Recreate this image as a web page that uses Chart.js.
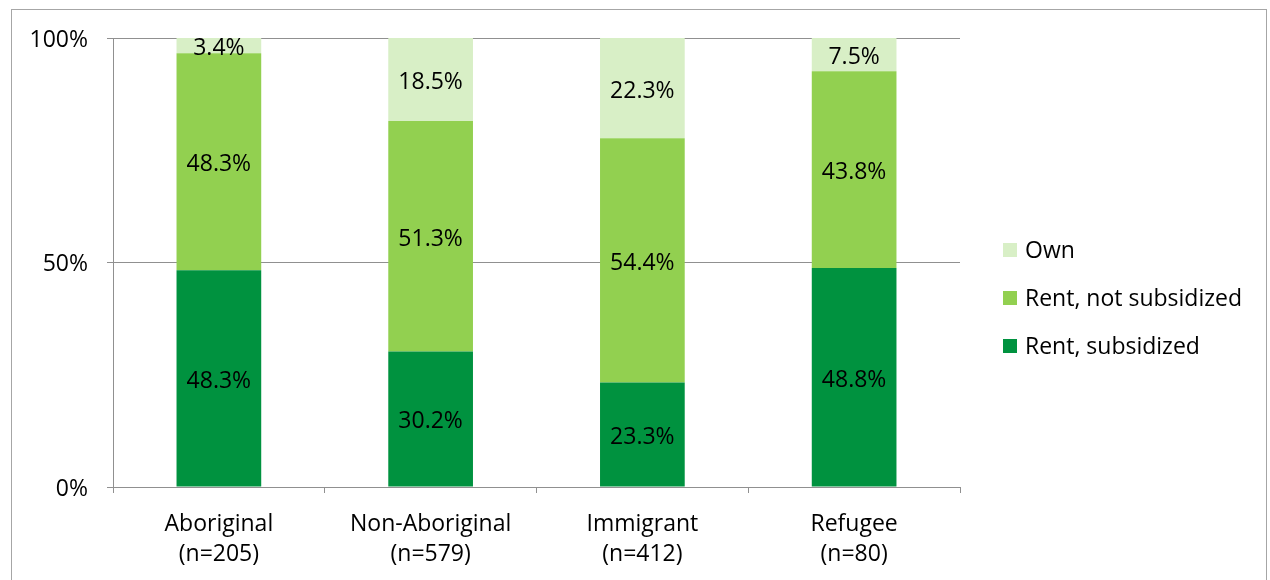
<!DOCTYPE html>
<html>
<head>
<meta charset="utf-8">
<script src="https://cdn.jsdelivr.net/npm/chart.js@4"></script>
<style>
  html, body { margin: 0; padding: 0; background: #fff; }
  #wrap { position: relative; width: 1270px; height: 580px; overflow: hidden; }
  #frame { position: absolute; left: 11px; top: 9px; width: 1256px; height: 620px; border: 1px solid #a6a6a6; box-sizing: border-box; }
  canvas { position: absolute; left: 0; top: 0; }
</style>
</head>
<body>
<div id="wrap">
  <div id="frame"></div>
  <canvas id="chart" width="1270" height="580"></canvas>
</div>
<script>
// categories (two-line labels)
const groups = [
  ['Aboriginal', '(n=205)'],
  ['Non-Aboriginal', '(n=579)'],
  ['Immigrant', '(n=412)'],
  ['Refugee', '(n=80)']
];
const seriesNames = ['Rent, subsidized', 'Rent, not subsidized', 'Own'];
const rentSubsidized = [48.3, 30.2, 23.3, 48.8];
const rentNotSubsidized = [48.3, 51.3, 54.4, 43.8];
const own = [3.4, 18.5, 22.3, 7.5];
const yTicks = [0, 50, 100];

const colours = ['#00923f', '#92d050', '#d8efc6'];
const FONT = "'Open Sans', sans-serif";
const SIZE = 23;

// text in the middle of every segment
const segmentLabels = {
  id: 'segmentLabels',
  afterDatasetsDraw(chart) {
    const ctx = chart.ctx;
    ctx.save();
    ctx.font = SIZE + 'px ' + FONT;
    ctx.fillStyle = '#000';
    ctx.textAlign = 'center';
    ctx.textBaseline = 'middle';
    chart.data.datasets.forEach((ds, i) => {
      chart.getDatasetMeta(i).data.forEach((bar, j) => {
        const mid = (bar.y + bar.base) / 2;
        ctx.fillText(ds.data[j].toFixed(1) + '%', bar.x, mid + 3);
      });
    });
    ctx.restore();
  }
};

// legend to the right of the plot, Own first
const sideLegend = {
  id: 'sideLegend',
  afterDraw(chart) {
    const ctx = chart.ctx;
    const area = chart.chartArea;
    const x = area.right + 43;
    const rowGap = 48;
    const yStart = 250;
    ctx.save();
    ctx.font = SIZE + 'px ' + FONT;
    ctx.textBaseline = 'middle';
    ctx.textAlign = 'left';
    const ds = chart.data.datasets;
    for (let k = 0; k < ds.length; k++) {
      const d = ds[ds.length - 1 - k];
      const y = yStart + k * rowGap;
      ctx.fillStyle = d.backgroundColor;
      ctx.fillRect(x, y - 7, 14, 14);
      ctx.fillStyle = '#000';
      ctx.fillText(d.label, x + 22, y + 1);
    }
    ctx.restore();
  }
};

const datasets = [rentSubsidized, rentNotSubsidized, own].map((vals, i) => ({
  label: seriesNames[i],
  data: vals,
  backgroundColor: colours[i],
  borderWidth: 0,
  barPercentage: 0.4,
  categoryPercentage: 1.0
}));

new Chart(document.getElementById('chart'), {
  type: 'bar',
  data: { labels: groups, datasets },
  options: {
    responsive: false,
    animation: false,
    layout: { padding: { left: 13, right: 310, top: 38, bottom: 0 } },
    plugins: { legend: { display: false }, tooltip: { enabled: false } },
    scales: {
      x: {
        stacked: true,
        grid: { display: true, offset: true, drawOnChartArea: false, color: '#909090', tickLength: 6 },
        border: { color: '#909090' },
        ticks: { color: '#000', font: { size: SIZE, family: FONT, lineHeight: 1.33 }, padding: 16, maxRotation: 0 },
        afterFit(s) { s.height = 93; }
      },
      y: {
        stacked: true,
        min: 0,
        max: 100,
        afterBuildTicks(s) { s.ticks = yTicks.map(v => ({ value: v })); },
        grid: { color: '#909090', tickLength: 6 },
        border: { color: '#909090' },
        ticks: { color: '#000', font: { size: SIZE, family: FONT }, padding: 19, labelOffset: 2, callback: v => v + '%' },
        afterFit(s) { s.width = 100; }
      }
    }
  },
  plugins: [segmentLabels, sideLegend]
});
</script>
</body>
</html>
